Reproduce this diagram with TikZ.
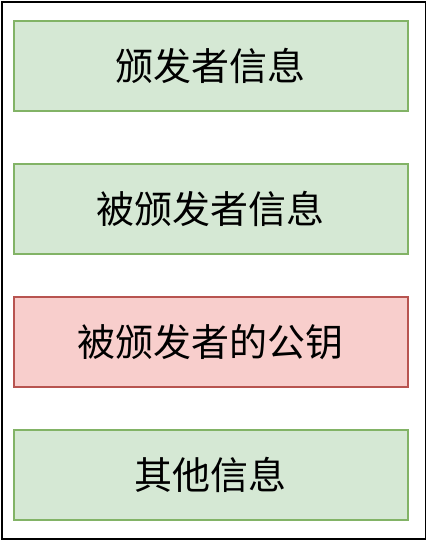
\documentclass[tikz,border=0pt]{standalone}
\usepackage{fontspec}
\newfontfamily\cjk{Noto Sans CJK SC}
\definecolor{gfill}{HTML}{D5E8D4}
\definecolor{gline}{HTML}{82B366}
\definecolor{rfill}{HTML}{F8CECC}
\definecolor{rline}{HTML}{B85450}
\tikzset{
  field/.style={draw=gline, fill=gfill, line width=1.6pt, minimum width=394pt, minimum height=90pt, inner sep=0pt, font=\cjk\fontsize{38}{44}\selectfont, anchor=north west},
  keyfield/.style={field, draw=rline, fill=rfill}
}
\begin{document}
\begin{tikzpicture}[x=1pt,y=1pt]
\useasboundingbox (0,0) rectangle (428,-542);
\node[draw=black, line width=1.8pt, minimum width=423.5pt, minimum height=537pt, inner sep=0pt, anchor=north west] (frame) at (1,-1) {};
\node[field] (a) at (13,-20) {颁发者信息};
\node[field] (b) at (13,-163) {被颁发者信息};
\node[keyfield] (c) at (13,-296) {被颁发者的公钥};
\node[field] (d) at (13,-429) {其他信息};
\end{tikzpicture}
\end{document}
